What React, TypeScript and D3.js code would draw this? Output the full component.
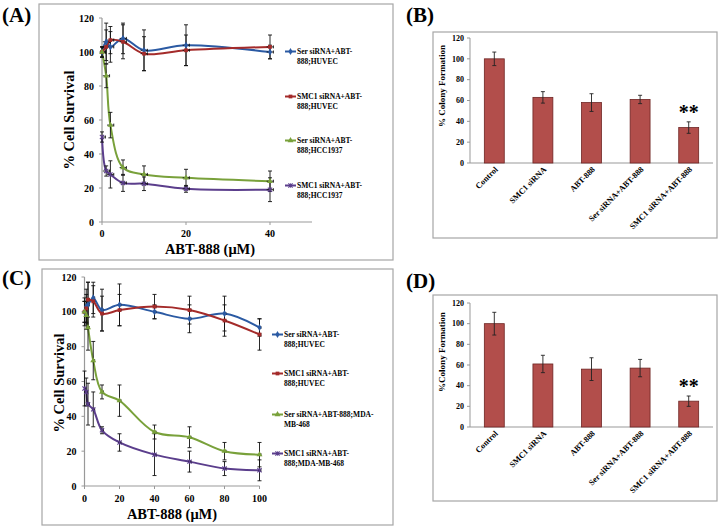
import React from "react";
import * as d3 from "d3";

// ---- panel A data (HCC1937) ----
const doseA = [0, 1, 2, 5, 10, 20, 40];
const serHuvecA = [100, 106, 103, 108, 101, 104, 100];
const serHuvecAErr = [3, 11, 9, 9, 12, 12, 4];
const smcHuvecA = [100, 103, 107, 106, 99, 101, 103];
const smcHuvecAErr = [3, 10, 8, 10, 10, 9, 7];
const serHccA = [100, 86, 57, 32, 28, 26, 24];
const serHccAErr = [3, 7, 7.5, 4.5, 5, 5, 6];
const smcHccA = [50, 30, 28, 23, 22.5, 19.5, 19];
const smcHccAErr = [3, 3, 8, 5, 4, 2, 7];
const xErrA = 0.8;

// ---- panel C data (MDA-MB-468) ----
const doseC = [0, 1, 2, 5, 10, 20, 40, 60, 80, 100];
const serHuvecC = [100, 103, 104, 108, 101, 104, 100, 96, 99, 91];
const serHuvecCErr = [6, 10, 13, 9, 12, 12, 4, 8, 10, 5];
const smcHuvecC = [100, 102, 107, 106, 99, 101, 103, 101, 95, 87];
const smcHuvecCErr = [6, 8, 10, 9, 10, 9, 7, 8, 9, 9];
const serMdaC = [100, 98, 91, 72, 54, 49, 31, 28, 20, 18];
const serMdaCErr = [8, 8, 13, 11, 4, 9, 4, 6, 5, 7];
const smcMdaC = [56, 54, 47, 44, 32, 25, 18, 14, 10, 9];
const smcMdaCErr = [10, 8, 12, 10, 2, 5, 12, 6, 4, 6];
const xErrC = 0.8;

// ---- bar panels ----
const categories = ["Control", "SMC1 siRNA", "ABT-888", "Ser siRNA+ABT-888", "SMC1 siRNA+ABT-888"];
const colonyB = [100, 63, 58, 61, 34];
const colonyBErr = [6.5, 5.5, 8.5, 4, 5.5];
const colonyD = [100, 61, 56, 57, 25];
const colonyDErr = [11, 8.4, 11, 8.4, 5];

const yTicks = [0, 20, 40, 60, 80, 100, 120];

const legendA = [
  ["Ser siRNA+ABT-", "888;HUVEC"],
  ["SMC1 siRNA+ABT-", "888;HUVEC"],
  ["Ser siRNA+ABT-", "888;HCC1937"],
  ["SMC1 siRNA+ABT-", "888;HCC1937"],
];
const legendC = [
  ["Ser siRNA+ABT-", "888;HUVEC"],
  ["SMC1 siRNA+ABT-", "888;HUVEC"],
  ["Ser siRNA+ABT-888;MDA-", "MB-468"],
  ["SMC1 siRNA+ABT-", "888;MDA-MB-468"],
];

const colors = ["#2B5AA3", "#A42B2A", "#79A13B", "#5B3E8C"];
const markers = ["diamond", "square", "triangle", "x"];
const FONT = "'Liberation Serif', 'Times New Roman', serif";
const BOX = "#A6A6A6";

function Marker({ kind, x, y, color }: { kind: string; x: number; y: number; color: string }) {
  if (kind === "x") {
    const s = 2.1;
    return (
      <g stroke={color} strokeWidth={1.1}>
        <line x1={x - s} y1={y - s} x2={x + s} y2={y + s} />
        <line x1={x - s} y1={y + s} x2={x + s} y2={y - s} />
        <line x1={x} y1={y - s} x2={x} y2={y + s} />
      </g>
    );
  }
  const sym = kind === "diamond" ? d3.symbolDiamond : kind === "square" ? d3.symbolSquare : d3.symbolTriangle;
  const size = kind === "square" ? 14 : 15;
  return <path d={d3.symbol(sym, size)() || ""} transform={`translate(${x},${y})`} fill={color} />;
}

type Series = { values: number[]; err: number[] };

function LinePanel(props: {
  box: [number, number, number, number];
  label: string;
  labelXY: [number, number];
  x: d3.ScaleLinear<number, number>;
  y: d3.ScaleLinear<number, number>;
  xTicks: number[];
  dose: number[];
  xErr: number;
  series: Series[];
  legend: string[][];
  legendX: number;
  legendYs: number[];
  tickFont: number;
  xTickY: number;
  xTitleXY: [number, number];
  yTitleXY: [number, number];
}) {
  const { box, x, y, dose, series } = props;
  const [bx, by, bw, bh] = box;
  const line = d3
    .line<number>()
    .x((_, i) => x(dose[i]))
    .y((d) => y(d))
    .curve(d3.curveCatmullRom.alpha(0.5));
  const [xMin, xMax] = x.range();
  const [yBot, yTop] = y.range();
  return (
    <g fontFamily={FONT} fontWeight="bold">
      <rect x={bx} y={by} width={bw} height={bh} fill="white" stroke={BOX} strokeWidth={1.2} />
      <text x={props.labelXY[0]} y={props.labelXY[1]} fontSize={21} fontWeight="bold">{props.label}</text>
      {/* axes */}
      <line x1={xMin} x2={xMin} y1={yBot} y2={yTop} stroke="#999" strokeWidth={1.2} />
      <line x1={xMin} x2={xMax} y1={yBot} y2={yBot} stroke="#999" strokeWidth={1.2} />
      {yTicks.map((t) => (
        <g key={"yt" + t}>
          <line x1={xMin - 3} x2={xMin} y1={y(t)} y2={y(t)} stroke="#999" />
          <text x={xMin - 8} y={y(t)} dy="0.35em" textAnchor="end" fontSize={props.tickFont}>{t}</text>
        </g>
      ))}
      {props.xTicks.map((t) => (
        <g key={"xt" + t}>
          <line x1={x(t)} x2={x(t)} y1={yBot} y2={yBot + 3} stroke="#999" />
          <text x={x(t)} y={props.xTickY} textAnchor="middle" fontSize={props.tickFont}>{t}</text>
        </g>
      ))}
      <text x={props.xTitleXY[0]} y={props.xTitleXY[1]} textAnchor="middle" fontSize={14.5}>ABT-888 (μM)</text>
      <text transform={`translate(${props.yTitleXY[0]},${props.yTitleXY[1]}) rotate(-90)`} textAnchor="middle" fontSize={14.5}>
        % Cell Survival
      </text>
      {/* lines */}
      {series.map((s, si) => (
        <path key={"l" + si} d={line(s.values) || ""} fill="none" stroke={colors[si]} strokeWidth={2} />
      ))}
      {/* error bars */}
      {series.map((s, si) => (
        <g key={"e" + si} stroke="#111" strokeWidth={0.9}>
          {s.values.map((v, i) => {
            const cx = x(dose[i]);
            const t = y(v + s.err[i]);
            const b = y(v - s.err[i]);
            const l = x(Math.max(0, dose[i] - props.xErr));
            const r = x(dose[i] + props.xErr);
            return (
              <g key={i}>
                <line x1={cx} x2={cx} y1={t} y2={b} />
                <line x1={cx - 2} x2={cx + 2} y1={t} y2={t} />
                <line x1={cx - 2} x2={cx + 2} y1={b} y2={b} />
                <line x1={l} x2={r} y1={y(v)} y2={y(v)} />
                <line x1={r} x2={r} y1={y(v) - 1.5} y2={y(v) + 1.5} />
              </g>
            );
          })}
        </g>
      ))}
      {series.map((s, si) => (
        <g key={"m" + si}>
          {s.values.map((v, i) => (
            <Marker key={i} kind={markers[si]} x={x(dose[i])} y={y(v)} color={colors[si]} />
          ))}
        </g>
      ))}
      {/* legend */}
      {props.legend.map((lines, i) => (
        <g key={"lg" + i}>
          <line x1={props.legendX} x2={props.legendX + 11} y1={props.legendYs[i] - 2.5} y2={props.legendYs[i] - 2.5} stroke={colors[i]} strokeWidth={2} />
          <Marker kind={markers[i]} x={props.legendX + 5.5} y={props.legendYs[i] - 2.5} color={colors[i]} />
          {lines.map((t, j) => (
            <text key={j} x={props.legendX + 12} y={props.legendYs[i] + j * 9.5} fontSize={7.5}>{t}</text>
          ))}
        </g>
      ))}
    </g>
  );
}

function BarPanel(props: {
  box: [number, number, number, number];
  label: string;
  labelXY: [number, number];
  y: d3.ScaleLinear<number, number>;
  values: number[];
  err: number[];
  yTitle: string;
  yTitleXY: [number, number];
}) {
  const { box, y, values, err } = props;
  const [bx, by, bw, bh] = box;
  const x = d3.scaleBand<string>().domain(categories).range([470, 713]).paddingInner(0.59).paddingOuter(0.295);
  const [yBot, yTop] = y.range();
  const last = categories.length - 1;
  return (
    <g fontFamily={FONT} fontWeight="bold">
      <rect x={bx} y={by} width={bw} height={bh} fill="white" stroke={BOX} strokeWidth={1.2} />
      <text x={props.labelXY[0]} y={props.labelXY[1]} fontSize={21}>{props.label}</text>
      <line x1={470} x2={470} y1={yBot} y2={yTop} stroke="#999" />
      <line x1={470} x2={713} y1={yBot} y2={yBot} stroke="#999" />
      {yTicks.map((t) => (
        <g key={t}>
          <line x1={467} x2={470} y1={y(t)} y2={y(t)} stroke="#999" />
          <text x={464} y={y(t)} dy="0.35em" textAnchor="end" fontSize={8}>{t}</text>
        </g>
      ))}
      <text transform={`translate(${props.yTitleXY[0]},${props.yTitleXY[1]}) rotate(-90)`} textAnchor="middle" fontSize={9}>
        {props.yTitle}
      </text>
      {categories.map((c, i) => {
        const cx = (x(c) || 0) + x.bandwidth() / 2;
        return (
          <g key={c}>
            <rect x={x(c)} y={y(values[i])} width={x.bandwidth()} height={yBot - y(values[i])} fill="#B24E4B" stroke="#6E2523" strokeWidth={0.8} />
            <g stroke="#222" strokeWidth={0.9}>
              <line x1={cx} x2={cx} y1={y(values[i] + err[i])} y2={y(values[i] - err[i])} />
              <line x1={cx - 2} x2={cx + 2} y1={y(values[i] + err[i])} y2={y(values[i] + err[i])} />
              <line x1={cx - 2} x2={cx + 2} y1={y(values[i] - err[i])} y2={y(values[i] - err[i])} />
            </g>
            <text transform={`translate(${cx + 4},${yBot + 7}) rotate(-45)`} textAnchor="end" fontSize={8.3}>{c}</text>
          </g>
        );
      })}
      <text
        x={(x(categories[last]) || 0) + x.bandwidth() / 2}
        y={y(values[last] + err[last]) - 3}
        textAnchor="middle"
        fontSize={20}
      >
        **
      </text>
    </g>
  );
}

export default function App() {
  const xA = d3.scaleLinear().domain([0, 50]).range([102, 312]);
  const yA = d3.scaleLinear().domain([0, 120]).range([222, 18]);
  const xC = d3.scaleLinear().domain([0, 100]).range([84.5, 259.5]);
  const yC = d3.scaleLinear().domain([0, 120]).range([486, 277]);
  const yB = d3.scaleLinear().domain([0, 120]).range([163, 38]);
  const yD = d3.scaleLinear().domain([0, 120]).range([427, 303]);

  const seriesA: Series[] = [
    { values: serHuvecA, err: serHuvecAErr },
    { values: smcHuvecA, err: smcHuvecAErr },
    { values: serHccA, err: serHccAErr },
    { values: smcHccA, err: smcHccAErr },
  ];
  const seriesC: Series[] = [
    { values: serHuvecC, err: serHuvecCErr },
    { values: smcHuvecC, err: smcHuvecCErr },
    { values: serMdaC, err: serMdaCErr },
    { values: smcMdaC, err: smcMdaCErr },
  ];

  return (
    <div style={{ position: "absolute", left: 0, top: 0 }}>
      <svg width={721} height={529} style={{ display: "block", background: "white" }}>
        <LinePanel
          box={[39, 4, 354, 256]}
          label="(A)"
          labelXY={[2, 22]}
          x={xA}
          y={yA}
          xTicks={[0, 20, 40]}
          dose={doseA}
          xErr={xErrA}
          series={seriesA}
          legend={legendA}
          legendX={285}
          legendYs={[54, 99, 143, 188]}
          tickFont={10}
          xTickY={237}
          xTitleXY={[210, 254]}
          yTitleXY={[74, 120]}
        />
        <LinePanel
          box={[42, 269, 351, 256]}
          label="(C)"
          labelXY={[2, 285]}
          x={xC}
          y={yC}
          xTicks={[0, 20, 40, 60, 80, 100]}
          dose={doseC}
          xErr={xErrC}
          series={seriesC}
          legend={legendC}
          legendX={272}
          legendYs={[337, 376, 417, 456]}
          tickFont={10}
          xTickY={502}
          xTitleXY={[172, 519]}
          yTitleXY={[64, 383]}
        />
        <BarPanel
          box={[433, 32, 284, 206]}
          label="(B)"
          labelXY={[406, 22]}
          y={yB}
          values={colonyB}
          err={colonyBErr}
          yTitle="% Colony Formation"
          yTitleXY={[445, 86]}
        />
        <BarPanel
          box={[433, 295, 284, 206]}
          label="(D)"
          labelXY={[406, 288]}
          y={yD}
          values={colonyD}
          err={colonyDErr}
          yTitle="%Colony Formation"
          yTitleXY={[445, 352]}
        />
      </svg>
    </div>
  );
}
